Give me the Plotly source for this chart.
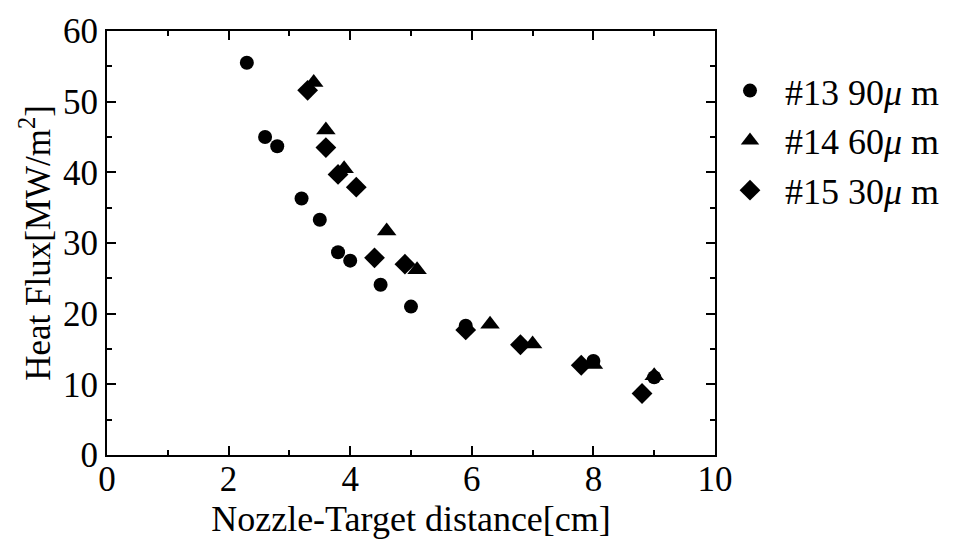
import plotly.graph_objects as go

x13 = [2.3, 2.6, 2.8, 3.2, 3.5, 3.8, 4.0, 4.5, 5.0, 5.9, 8.0, 9.0]
y13 = [55.5, 45.0, 43.7, 36.3, 33.3, 28.7, 27.5, 24.1, 21.0, 18.3, 13.3, 11.0]
x14 = [3.4, 3.6, 3.9, 4.6, 5.1, 6.3, 7.0, 8.0, 9.0]
y14 = [52.7, 46.0, 40.5, 31.7, 26.2, 18.5, 15.7, 12.8, 11.2]
x15 = [3.3, 3.6, 3.8, 4.1, 4.4, 4.9, 5.9, 6.8, 7.8, 8.8]
y15 = [51.6, 43.5, 39.7, 37.9, 27.9, 27.0, 17.7, 15.6, 12.7, 8.7]

names = ["#13 90<i>μ</i> m", "#14 60<i>μ</i> m", "#15 30<i>μ</i> m"]
FONT = "Liberation Serif, Times New Roman, serif"

fig = go.Figure()
fig.add_trace(go.Scatter(x=x13, y=y13, mode="markers", name=names[0], legendgroup="a",
                         marker=dict(symbol="circle", size=14, color="black")))
fig.add_trace(go.Scatter(x=x14, y=y14, mode="markers", name=names[1], legendgroup="b",
                         marker=dict(symbol="triangle-up", size=17, color="black")))
fig.add_trace(go.Scatter(x=x15, y=y15, mode="markers", name=names[2], legendgroup="c",
                         marker=dict(symbol="diamond", size=16, color="black")))

axis_common = dict(showline=True, linewidth=2, linecolor="black", mirror="allticks",
                   ticks="inside", ticklen=9, tickwidth=2, tickcolor="black",
                   showgrid=False, zeroline=False,
                   tickfont=dict(family=FONT, size=35, color="black"))

fig.update_xaxes(range=[0, 10], dtick=2, tick0=0, ticklabelstandoff=-8,
                 minor=dict(dtick=1, ticks="inside", ticklen=5, tickwidth=1.5, tickcolor="black"),
                 title=dict(text="Nozzle-Target distance[cm]", font=dict(family=FONT, size=36, color="black"),
                            standoff=0),
                 **axis_common)
fig.update_yaxes(range=[0, 60], dtick=10, tick0=0,
                 minor=dict(dtick=5, ticks="inside", ticklen=5, tickwidth=1.5, tickcolor="black"),
                 title=dict(text="Heat Flux[MW/m<sup>2</sup>]", font=dict(family=FONT, size=35, color="black"),
                            standoff=2),
                 **axis_common)

fig.update_layout(
    width=965, height=546,
    margin=dict(l=107, r=250, t=25, b=91),
    plot_bgcolor="white", paper_bgcolor="white",
    font=dict(family=FONT, color="black"),
    legend=dict(x=1.0, y=0.93, xanchor="left", yanchor="top",
                font=dict(family=FONT, size=36, color="black"),
                tracegroupgap=0, itemwidth=60, bgcolor="rgba(0,0,0,0)"),
)

fig.write_html("out.html")
